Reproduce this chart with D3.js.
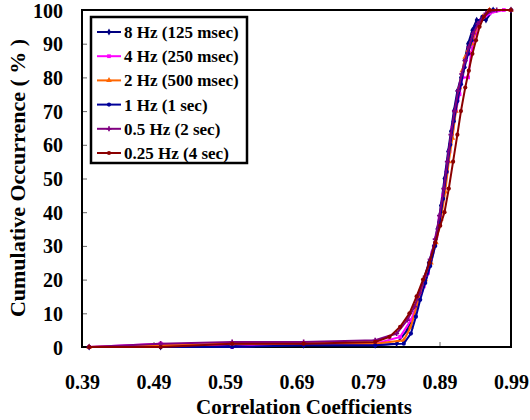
<!doctype html>
<html>
<head>
<script src="https://cdn.jsdelivr.net/npm/d3@7"></script>
<style>
  body { margin: 0; background: #fff; }
  svg text { font-family: "Liberation Serif", "Times New Roman", serif !important; font-weight: bold; fill: #000; }
</style>
</head>
<body>
<svg id="chart" width="530" height="420"></svg>
<script>
// series data: [correlation, cumulative %]
const hz8 = [[0.40,0],[0.50,0],[0.60,0.5],[0.70,0.5],[0.80,0.5],[0.83,1],[0.845,5],[0.855,10],[0.862,15],[0.868,20],[0.875,25],[0.882,30],[0.887,35],[0.892,42],[0.897,50],[0.902,58],[0.906,64],[0.910,70],[0.915,76],[0.920,80],[0.925,85],[0.930,90],[0.936,94],[0.942,97],[0.955,97],[0.965,100],[0.99,100]];
const hz4 = [[0.40,0],[0.50,1],[0.60,0],[0.70,1],[0.80,1],[0.835,3],[0.85,8],[0.86,13],[0.868,18],[0.874,22],[0.88,28],[0.886,33],[0.89,38],[0.895,45],[0.90,52],[0.904,58],[0.908,65],[0.913,70],[0.918,75],[0.922,80],[0.93,80],[0.934,87],[0.94,93],[0.948,97],[0.96,99],[0.98,100]];
const hz2 = [[0.40,0],[0.50,0.5],[0.60,1],[0.70,1],[0.80,1],[0.84,2],[0.85,6],[0.858,12],[0.864,17],[0.87,20],[0.878,25],[0.885,31],[0.892,38],[0.898,46],[0.903,55],[0.908,62],[0.913,70],[0.918,77],[0.922,82],[0.926,86],[0.93,88],[0.935,90],[0.942,95],[0.95,98],[0.96,100],[0.99,100]];
const hz1 = [[0.40,0],[0.50,0],[0.60,0],[0.70,0.5],[0.80,0.5],[0.84,1],[0.85,4],[0.857,9],[0.863,14],[0.87,19],[0.877,24],[0.884,30],[0.89,37],[0.895,44],[0.90,52],[0.905,60],[0.91,67],[0.915,73],[0.92,78],[0.925,83],[0.93,87],[0.935,91],[0.94,95],[0.95,98],[0.965,100],[0.99,100]];
const hz05 = [[0.40,0],[0.50,1],[0.60,1.5],[0.70,1.5],[0.80,2],[0.83,4],[0.845,8],[0.855,12],[0.862,16],[0.87,21],[0.877,26],[0.884,32],[0.89,39],[0.896,47],[0.901,55],[0.906,63],[0.911,70],[0.916,76],[0.921,81],[0.926,85],[0.931,89],[0.937,93],[0.944,96],[0.955,99],[0.97,100],[0.99,100]];
const hz025 = [[0.40,0],[0.50,0],[0.60,1],[0.70,1],[0.80,1.5],[0.82,3],[0.835,6],[0.848,10],[0.858,15],[0.867,20],[0.876,25],[0.884,31],[0.891,36],[0.897,40],[0.903,47],[0.909,55],[0.915,63],[0.92,70],[0.926,77],[0.931,82],[0.936,87],[0.941,91],[0.946,95],[0.952,98],[0.96,100],[0.99,100]];

const seriesNames = ["8 Hz (125 msec)", "4 Hz (250 msec)", "2 Hz (500 msec)", "1 Hz (1 sec)", "0.5 Hz (2 sec)", "0.25 Hz (4 sec)"];
const seriesData = [hz8, hz4, hz2, hz1, hz05, hz025];
const seriesColors = ["#000080", "#ff00ff", "#ff6600", "#000099", "#800080", "#8b0000"];
const seriesSymbols = [d3.symbolDiamond, d3.symbolSquare, d3.symbolTriangle, d3.symbolCircle, d3.symbolCross, d3.symbolCircle];

const xTicks = [0.39, 0.49, 0.59, 0.69, 0.79, 0.89, 0.99];
const yTicks = [0, 10, 20, 30, 40, 50, 60, 70, 80, 90, 100];

const svg = d3.select("#chart");
const plotLeft = 82, plotRight = 511, plotTop = 10, plotBottom = 347;

const x = d3.scaleLinear().domain([0.39, 0.99]).range([plotLeft, plotRight]);
const y = d3.scaleLinear().domain([0, 100]).range([plotBottom, plotTop]);

// axes with inside ticks
svg.append("g")
  .attr("transform", "translate(0," + plotBottom + ")")
  .call(d3.axisBottom(x).tickValues(xTicks).tickSize(-5).tickPadding(42).tickFormat(d3.format(".2f")))
  .call(g => g.select(".domain").remove())
  .call(g => g.selectAll("text").attr("font-size", 20).attr("dy", 0));

svg.append("g")
  .attr("transform", "translate(" + plotLeft + ",0)")
  .call(d3.axisLeft(y).tickValues(yTicks).tickSize(-5).tickPadding(19))
  .call(g => g.select(".domain").remove())
  .call(g => g.selectAll("text").attr("font-size", 20).attr("dy", "0.35em"));

svg.selectAll(".tick line").attr("stroke", "#666");

// frame
svg.append("rect")
  .attr("x", plotLeft).attr("y", plotTop)
  .attr("width", plotRight - plotLeft).attr("height", plotBottom - plotTop)
  .attr("fill", "none").attr("stroke", "#000").attr("stroke-width", 2);

const line = d3.line().x(d => x(d[0])).y(d => y(d[1]));

seriesData.forEach((data, i) => {
  svg.append("path")
    .datum(data)
    .attr("fill", "none")
    .attr("stroke", seriesColors[i])
    .attr("stroke-width", 2)
    .attr("d", line);
  svg.append("g").selectAll("path")
    .data(data)
    .join("path")
    .attr("transform", d => "translate(" + x(d[0]) + "," + y(d[1]) + ")")
    .attr("d", d3.symbol().type(seriesSymbols[i]).size(14))
    .attr("fill", seriesColors[i]);
});

// legend
const legend = svg.append("g");
legend.append("rect")
  .attr("x", 91).attr("y", 17).attr("width", 156).attr("height", 146)
  .attr("fill", "#fff").attr("stroke", "#000").attr("stroke-width", 2.5);

seriesNames.forEach((name, i) => {
  const cy = 32 + i * 24.2;
  legend.append("line")
    .attr("x1", 97).attr("x2", 121).attr("y1", cy).attr("y2", cy)
    .attr("stroke", seriesColors[i]).attr("stroke-width", 2);
  legend.append("path")
    .attr("transform", "translate(109," + cy + ")")
    .attr("d", d3.symbol().type(seriesSymbols[i]).size(14))
    .attr("fill", seriesColors[i]);
  legend.append("text")
    .attr("x", 124).attr("y", cy).attr("dy", "0.35em")
    .attr("font-size", 17)
    .text(name);
});

// axis titles
svg.append("text")
  .attr("x", 304).attr("y", 414)
  .attr("text-anchor", "middle")
  .attr("font-size", 21)
  .text("Correlation Coefficients");

svg.append("text")
  .attr("transform", "translate(25,178) rotate(-90)")
  .attr("text-anchor", "middle")
  .attr("font-size", 22)
  .text("Cumulative Occurrence ( % )");
</script>
</body>
</html>
